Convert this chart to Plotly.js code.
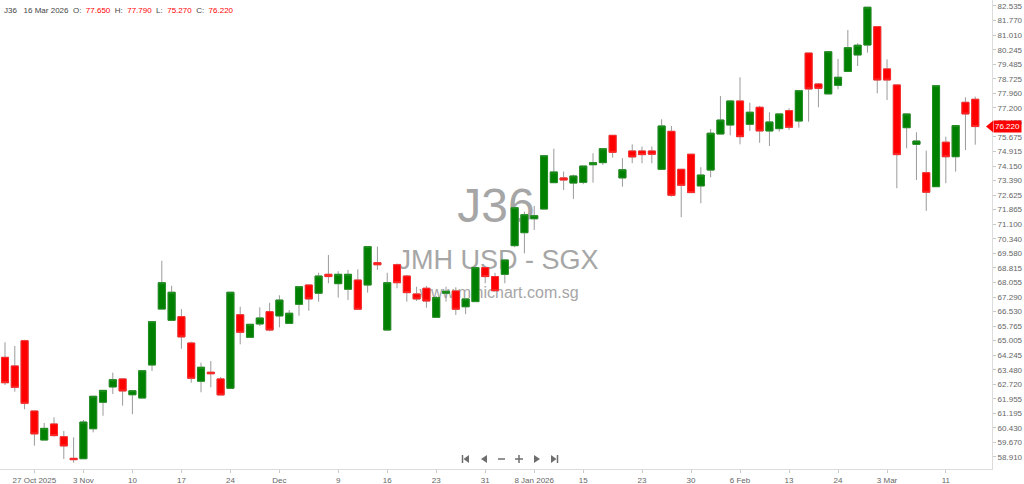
<!DOCTYPE html>
<html><head><meta charset="utf-8">
<script src="https://cdn.plot.ly/plotly-3.0.1.min.js"></script>
<style>html,body{margin:0;padding:0;background:#fff}#chart{width:1024px;height:484px}</style>
</head><body><div id="chart"></div>
<script>
const dates = ["2025-10-22","2025-10-23","2025-10-24","2025-10-27","2025-10-28","2025-10-29","2025-10-30","2025-10-31",
"2025-11-03","2025-11-04","2025-11-05","2025-11-06","2025-11-07","2025-11-10","2025-11-11","2025-11-12","2025-11-13","2025-11-14",
"2025-11-17","2025-11-18","2025-11-19","2025-11-20","2025-11-21","2025-11-24","2025-11-25","2025-11-26","2025-11-27","2025-11-28",
"2025-12-01","2025-12-02","2025-12-03","2025-12-04","2025-12-05","2025-12-08","2025-12-09","2025-12-10","2025-12-11","2025-12-12",
"2025-12-15","2025-12-16","2025-12-17","2025-12-18","2025-12-19","2025-12-22","2025-12-23","2025-12-24","2025-12-26","2025-12-29",
"2025-12-30","2025-12-31","2026-01-02","2026-01-05","2026-01-06","2026-01-07","2026-01-08","2026-01-09","2026-01-12","2026-01-13",
"2026-01-14","2026-01-15","2026-01-16","2026-01-19","2026-01-20","2026-01-21","2026-01-22","2026-01-23","2026-01-26","2026-01-27",
"2026-01-28","2026-01-29","2026-01-30","2026-02-02","2026-02-03","2026-02-04","2026-02-05","2026-02-06","2026-02-09","2026-02-10",
"2026-02-11","2026-02-12","2026-02-13","2026-02-16","2026-02-19","2026-02-20","2026-02-23","2026-02-24","2026-02-25","2026-02-26",
"2026-02-27","2026-03-02","2026-03-03","2026-03-04","2026-03-05","2026-03-06","2026-03-09","2026-03-10","2026-03-11","2026-03-12",
"2026-03-13","2026-03-16"];
const open  = [64.13,63.68,65.00,61.32,59.80,60.64,59.97,58.84,58.82,60.39,61.78,62.58,63.00,62.17,62.00,63.73,66.66,66.07,
66.26,64.88,62.88,63.35,63.00,62.51,66.36,65.18,65.88,66.52,66.30,65.91,66.91,67.92,67.49,68.48,67.99,67.70,68.18,67.92,
69.09,65.56,68.98,68.39,67.45,67.75,66.23,67.49,67.61,66.78,67.05,68.83,68.36,68.48,69.98,70.66,71.39,71.90,73.28,73.53,
73.26,73.30,74.22,74.33,75.76,73.53,74.94,74.94,74.94,73.98,75.97,73.98,74.77,73.11,73.94,75.83,76.30,77.56,76.34,77.23,
75.99,76.11,77.05,76.51,80.07,78.45,77.93,78.38,79.11,79.97,80.49,81.45,79.24,78.40,76.16,75.29,73.80,73.07,75.40,74.64,
77.49,77.65];
const high  = [64.92,64.73,65.05,61.32,60.69,60.99,60.27,59.94,60.85,62.09,62.40,63.33,63.00,62.38,63.43,66.00,69.19,67.88,
66.66,64.95,63.85,63.94,63.10,67.54,66.78,65.86,66.75,66.99,67.38,66.61,67.83,67.92,68.56,69.49,68.64,68.71,68.74,69.93,
69.93,68.56,69.05,68.45,67.83,67.87,67.34,67.83,67.80,67.19,68.83,68.83,68.56,69.23,71.97,71.76,72.06,74.69,75.06,73.86,
73.70,74.15,74.82,75.06,75.76,74.56,75.29,75.17,75.17,76.60,76.25,74.00,74.77,74.09,76.09,77.82,77.60,78.80,77.47,77.30,
76.97,76.90,77.18,78.10,80.07,78.50,80.14,79.76,81.28,80.58,82.47,81.45,79.74,78.40,76.88,75.92,74.96,78.36,75.69,76.27,
77.75,77.79];
const low   = [62.68,62.33,61.41,59.50,59.80,59.98,58.81,58.61,58.82,60.20,61.07,62.21,61.60,61.15,62.00,63.42,66.66,66.07,
64.58,62.80,62.30,62.56,62.16,62.51,64.81,65.18,65.77,65.50,65.70,65.91,66.31,66.57,67.05,68.01,67.26,67.13,66.65,67.52,
68.71,65.56,67.75,67.05,67.08,66.73,66.23,67.05,66.35,66.39,67.05,68.01,67.62,68.01,69.90,69.58,70.80,71.90,73.28,72.90,
72.43,73.20,73.28,74.21,74.59,73.07,74.30,74.30,74.30,73.98,72.55,71.47,72.76,72.20,73.56,75.83,75.76,75.29,75.99,75.37,
75.20,75.95,76.04,76.16,76.47,77.23,77.93,78.17,79.11,79.39,80.09,77.96,77.61,72.99,75.08,73.42,71.80,73.07,73.25,73.86,
74.99,75.27];
const close = [62.80,62.56,61.72,60.12,60.41,60.03,59.49,58.77,60.74,62.09,62.40,62.96,62.37,62.38,63.43,66.00,68.04,67.54,
65.20,63.03,63.61,63.27,62.16,67.54,65.44,65.86,66.19,65.56,67.13,66.44,67.83,67.19,68.39,68.36,68.48,68.48,66.65,69.93,
68.98,68.04,68.04,67.52,67.19,67.08,67.26,67.59,66.65,67.19,68.83,68.36,67.62,69.23,71.97,71.60,71.55,74.69,73.84,73.42,
73.63,74.15,74.33,75.06,74.87,73.96,74.63,74.75,74.77,76.25,72.62,73.14,72.76,73.68,75.87,76.56,77.56,75.69,76.97,75.99,
76.46,76.88,76.18,78.10,78.19,78.22,80.14,78.80,80.35,80.48,82.47,78.66,78.66,74.75,76.88,75.46,72.78,78.36,74.64,76.27,
76.88,76.22];

const yTickVals = [82.535,81.770,81.010,80.245,79.485,78.725,77.960,77.200,76.435,75.675,74.915,74.150,73.390,72.625,71.865,
71.100,70.340,69.580,68.815,68.055,67.290,66.530,65.765,65.005,64.245,63.480,62.720,61.955,61.195,60.430,59.670,58.910];
const yTickText = yTickVals.map(v => v.toFixed(3));
const xTickVals = ["2025-10-27","2025-11-03","2025-11-10","2025-11-17","2025-11-24","2025-12-01","2025-12-09","2025-12-16",
"2025-12-23","2025-12-31","2026-01-08","2026-01-15","2026-01-23","2026-01-30","2026-02-06","2026-02-13","2026-02-24","2026-03-03","2026-03-11"];
const xTickText = ["27 Oct 2025","3 Nov","10","17","24","Dec","9","16","23","31","8 Jan 2026","15","23","30","6 Feb","13","24","3 Mar","11"];

const symbol = "J36";
const lastDate = "16 Mar 2026";
const lastIdx = dates.length - 1;

const UP = "#008000", DOWN = "#ff0000", WICK = "#9a9a9a";
const bodyHigh = open.map((o, i) => Math.max(o, close[i]));
const bodyLow = open.map((o, i) => Math.min(o, close[i]));

const wicks = {
  type: "candlestick", x: dates, open: open, high: high, low: low, close: close,
  increasing: {line: {color: WICK, width: 1}, fillcolor: UP},
  decreasing: {line: {color: WICK, width: 1}, fillcolor: DOWN},
  whiskerwidth: 0, hoverinfo: "skip"
};
const bodies = {
  type: "candlestick", x: dates, open: open, high: bodyHigh, low: bodyLow, close: close,
  increasing: {line: {color: "#1f8f1f", width: 1}, fillcolor: UP},
  decreasing: {line: {color: "#ff2a2a", width: 1}, fillcolor: DOWN},
  whiskerwidth: 0, hoverinfo: "skip"
};

const PW = 992, PH = 469;
const px = x => x / PW;
const py = y => 1 - y / PH;
const FONT = "Liberation Sans, Arial, sans-serif";

const annotations = [];
// header line (one text so nothing overlaps)
const red = s => `<span style="color:#ff0000">${s}</span>`;
const sp = "&nbsp;&nbsp;";
const headerText = `${symbol}${sp}&nbsp;${lastDate}${sp}O:${sp}${red(open[lastIdx].toFixed(3))}${sp}H:${sp}${red(high[lastIdx].toFixed(3))}${sp}L:${sp}${red(low[lastIdx].toFixed(3))}${sp}C:${sp}${red(close[lastIdx].toFixed(3))}`;
annotations.push({xref: "paper", yref: "paper", x: px(2), y: py(10.5), xanchor: "left", yanchor: "middle",
  text: headerText, showarrow: false, align: "left", font: {family: FONT, size: 8, color: "#444"}});

// current price tag
annotations.push({xref: "paper", yref: "y", x: px(993), y: close[lastIdx], xanchor: "left", yanchor: "middle",
  text: close[lastIdx].toFixed(3), showarrow: false, bgcolor: "#ff0000", borderpad: 1,
  font: {family: FONT, size: 8, color: "#ffffff"}});

const shapes = [];
// watermark texts (drawn below the candles)
function wm(cx, cy, w, h, text, size) {
  shapes.push({type: "rect", xref: "paper", yref: "paper", x0: px(cx - w / 2), x1: px(cx + w / 2),
    y0: py(cy + h / 2), y1: py(cy - h / 2), line: {width: 0}, fillcolor: "rgba(0,0,0,0)", layer: "below",
    label: {text: text, textposition: "middle center", font: {family: FONT, size: size, color: "#a6a6a6"}}});
}
wm(496, 200, 120, 50, symbol, 48);
wm(498, 257, 240, 34, "JMH USD - SGX", 27);
wm(499, 290, 200, 22, "www.minichart.com.sg", 16);

// price tag arrow
shapes.push({type: "path", xref: "paper", yref: "y", layer: "above",
  path: `M ${px(986)},${close[lastIdx]} L ${px(993)},${close[lastIdx] + 0.3} L ${px(993)},${close[lastIdx] - 0.3} Z`,
  fillcolor: "#ff0000", line: {width: 0}});

// navigation icons
const NAV = "#6e6e6e";
function pth(pts) { return "M " + pts.map(p => px(p[0]) + "," + py(p[1])).join(" L ") + " Z"; }
function navPath(pts) { shapes.push({type: "path", xref: "paper", yref: "paper", path: pth(pts), fillcolor: NAV, line: {width: 0}}); }
function navLine(x0, y0, x1, y1) { shapes.push({type: "line", xref: "paper", yref: "paper", x0: px(x0), y0: py(y0), x1: px(x1), y1: py(y1), line: {color: NAV, width: 1.5}}); }
navLine(462.5, 455, 462.5, 463); navPath([[469, 455], [469, 463], [463.5, 459]]);
navPath([[487, 455], [487, 463], [481, 459]]);
navLine(498, 459, 505, 459);
navLine(515, 459, 523, 459); navLine(519, 455, 519, 463);
navPath([[534, 455], [534, 463], [540, 459]]);
navPath([[551, 455], [551, 463], [556.5, 459]]); navLine(557.5, 455, 557.5, 463);

const layout = {
  width: 1024, height: 484,
  margin: {l: 0, r: 32, t: 0, b: 15, pad: 0},
  paper_bgcolor: "#ffffff", plot_bgcolor: "#ffffff",
  showlegend: false, boxgap: 0.28, boxgroupgap: 0, boxmode: "overlay",
  font: {family: FONT},
  xaxis: {type: "category", range: [-0.51, 100.71], tickmode: "array", tickvals: xTickVals, ticktext: xTickText,
    ticks: "outside", ticklen: 3, tickcolor: "#c8c8c8", showline: true, linecolor: "#dcdcdc", linewidth: 1,
    showgrid: false, zeroline: false, tickfont: {family: FONT, size: 8, color: "#666"},
    rangeslider: {visible: false}, fixedrange: true},
  yaxis: {side: "right", range: [58.281, 82.849], tickmode: "array", tickvals: yTickVals, ticktext: yTickText,
    ticks: "outside", ticklen: 3, tickcolor: "#c8c8c8", showline: true, linecolor: "#dcdcdc", linewidth: 1,
    showgrid: false, zeroline: false, tickfont: {family: FONT, size: 8, color: "#666"}, fixedrange: true},
  annotations: annotations,
  shapes: shapes
};
Plotly.newPlot("chart", [wicks, bodies], layout, {staticPlot: true, displayModeBar: false});
</script>
</body></html>
